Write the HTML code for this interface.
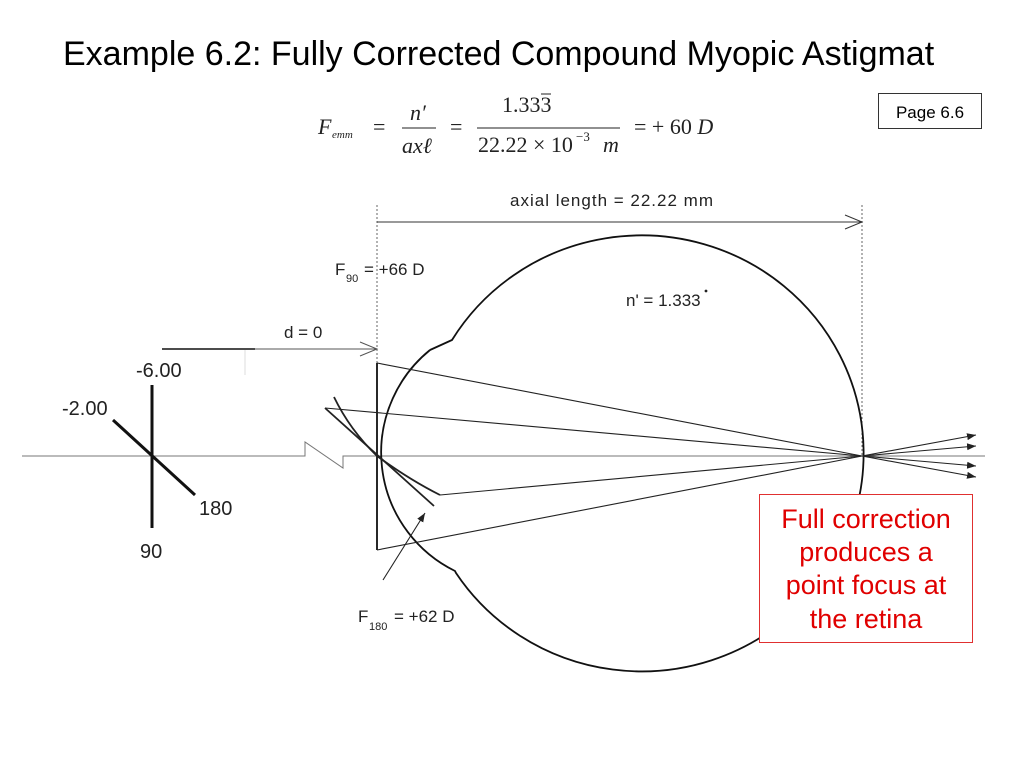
<!DOCTYPE html>
<html><head><meta charset="utf-8"><style>
body{margin:0;width:1024px;height:768px;background:#fff;overflow:hidden;font-family:"Liberation Sans",sans-serif}
svg{position:absolute;left:0;top:0}
</style></head><body>
<svg width="1024" height="768" viewBox="0 0 1024 768">
<defs>
<marker id="ah" markerWidth="10" markerHeight="8" refX="9" refY="4" orient="auto" markerUnits="userSpaceOnUse"><path d="M0,0.5 L9,4 L0,7.5 Z" fill="#222"/></marker>
</defs>
<text x="63" y="65" font-size="34" fill="#000">Example 6.2: Fully Corrected Compound Myopic Astigmat</text>
<rect x="878.5" y="93.5" width="103" height="35" fill="#fff" stroke="#333" stroke-width="1"/>
<text x="930" y="118" font-size="17" text-anchor="middle">Page 6.6</text>
<g font-family="Liberation Serif,serif" font-size="22" fill="#222">
<text x="318" y="134" font-style="italic">F</text><text x="332" y="138" font-size="11" font-style="italic">emm</text>
<text x="373" y="134">=</text>
<text x="410" y="120" font-style="italic">n′</text>
<line x1="402" y1="128" x2="436" y2="128" stroke="#222" stroke-width="1"/>
<text x="402" y="153" font-style="italic">axℓ</text>
<text x="450" y="134">=</text>
<text x="502" y="112">1.333</text>
<line x1="541" y1="94" x2="551" y2="94" stroke="#222" stroke-width="1"/>
<line x1="477" y1="128" x2="620" y2="128" stroke="#222" stroke-width="1"/>
<text x="478" y="152">22.22 × 10</text><text x="576" y="141" font-size="13">−3</text><text x="603" y="152" font-style="italic">m</text>
<text x="634" y="134">=  + 60 <tspan font-style="italic">D</tspan></text>
</g>
<line x1="377" y1="205" x2="377" y2="456" stroke="#666" stroke-dasharray="2,2"/>
<line x1="862" y1="205" x2="862" y2="456" stroke="#666" stroke-dasharray="2,2"/>
<line x1="377" y1="222" x2="862" y2="222" stroke="#333"/>
<path d="M845,215 L862,222 L845,229" fill="none" stroke="#333"/>
<text x="612" y="206" font-size="17" text-anchor="middle" fill="#222" letter-spacing="1">axial length = 22.22 mm</text>
<text x="335" y="275" font-size="17" fill="#222">F</text><text x="346" y="282" font-size="11" fill="#222">90</text><text x="364" y="275" font-size="17" fill="#222">= +66 D</text>
<text x="626" y="306" font-size="17" fill="#222">n' = 1.333</text>
<circle cx="706" cy="291" r="1.4" fill="#222"/>
<text x="284" y="338" font-size="17" fill="#222">d = 0</text>
<line x1="162" y1="349" x2="255" y2="349" stroke="#111" stroke-width="1.5"/>
<line x1="255" y1="349" x2="377" y2="349" stroke="#555"/>
<path d="M360,342 L377,349 L360,356" fill="none" stroke="#555"/>
<line x1="245" y1="350" x2="245" y2="375" stroke="#ddd"/>
<path d="M22,456 L305,456 L305,442 L343,468 L343,456 L985,456" fill="none" stroke="#777" stroke-width="1"/>
<line x1="152" y1="385" x2="152" y2="528" stroke="#111" stroke-width="3"/>
<line x1="113" y1="420" x2="195" y2="495" stroke="#111" stroke-width="3"/>
<g font-size="20" fill="#222">
<text x="136" y="377">-6.00</text><text x="62" y="415">-2.00</text><text x="199" y="515">180</text><text x="140" y="558">90</text>
</g>
<path d="M430,350 L452,340 A222 218 0 1 1 456,573 L455,571 A132 132 0 0 1 430,350" fill="none" stroke="#111" stroke-width="1.8"/>
<line x1="377" y1="363" x2="377" y2="550" stroke="#111" stroke-width="1.8"/>
<g stroke="#222" stroke-width="1.1" fill="none">
<line x1="377" y1="363" x2="862" y2="456"/>
<line x1="325" y1="408" x2="862" y2="456"/>
<line x1="440" y1="495" x2="862" y2="456"/>
<line x1="377" y1="550" x2="862" y2="456"/>
<line x1="325" y1="408" x2="434" y2="506" stroke-width="1.8"/>
<path d="M334,397 Q350,430 377,456 Q410,480 440,495" stroke-width="1.8"/>
<line x1="862" y1="456" x2="976" y2="435" marker-end="url(#ah)"/>
<line x1="862" y1="456" x2="976" y2="446" marker-end="url(#ah)"/>
<line x1="862" y1="456" x2="976" y2="466" marker-end="url(#ah)"/>
<line x1="862" y1="456" x2="976" y2="477" marker-end="url(#ah)"/>
<line x1="383" y1="580" x2="425" y2="513" marker-end="url(#ah)"/>
</g>
<text x="358" y="622" font-size="17" fill="#222">F</text><text x="369" y="630" font-size="11" fill="#222">180</text><text x="394" y="622" font-size="17" fill="#222">= +62 D</text>
<rect x="759.5" y="494.5" width="213" height="148" fill="#fff" stroke="#e03030" stroke-width="1"/>
<g font-size="27" fill="#e00000" text-anchor="middle">
<text x="866" y="528">Full correction</text>
<text x="866" y="561">produces a</text>
<text x="866" y="594">point focus at</text>
<text x="866" y="628">the retina</text>
</g>
</svg>
</body></html>
